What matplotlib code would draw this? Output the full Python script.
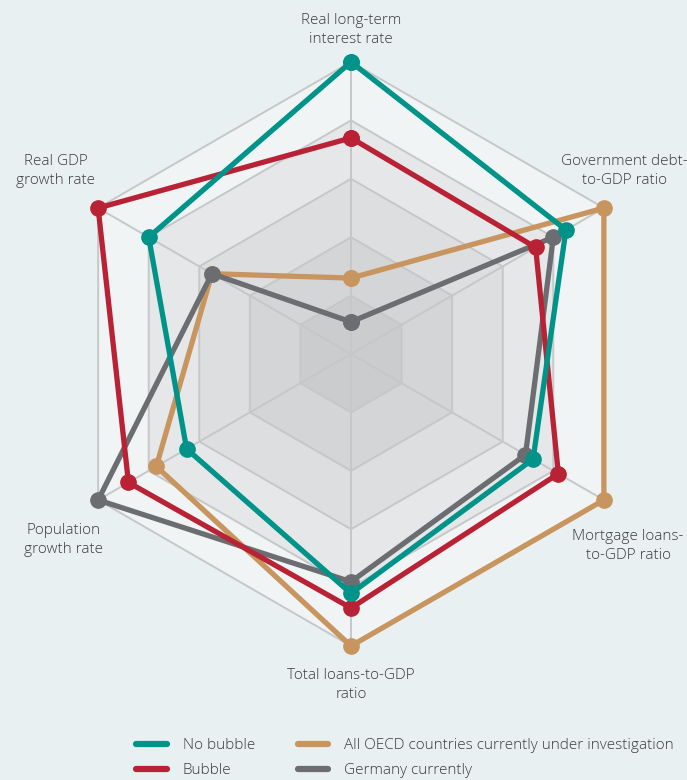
import matplotlib.pyplot as plt
import numpy as np
from matplotlib.lines import Line2D

plt.rcParams['font.family'] = ['Open Sans', 'DejaVu Sans']
plt.rcParams['font.weight'] = 'light'

# axes, clockwise from the top
axis_labels = ['Real long-term\ninterest rate', 'Government debt-\nto-GDP ratio',
               'Mortgage loans-\nto-GDP ratio', 'Total loans-to-GDP\nratio',
               'Population\ngrowth rate', 'Real GDP\ngrowth rate']

no_bubble = [5.0, 4.25, 3.6, 4.1, 3.25, 4.0]
bubble = [3.7, 3.65, 4.1, 4.35, 4.4, 5.0]
oecd = [1.3, 5.0, 5.0, 5.0, 3.85, 2.75]
germany = [0.55, 4.0, 3.45, 3.9, 5.0, 2.75]

series_names = ['No bubble', 'Bubble', 'All OECD countries currently under investigation',
                'Germany currently']
series_colors = ['#009389', '#B92234', '#C8955F', '#6C6D70']

bg = '#E8F0F2'
ring_colors = ['#F1F4F5', '#E5E7E9', '#DDDEE0', '#D4D5D7', '#CBCCCE']
grid_color = '#C6C7C9'

n = len(axis_labels)
theta = np.linspace(0, 2 * np.pi, n, endpoint=False)
theta_closed = np.append(theta, theta[0])

fig = plt.figure(figsize=(6.87, 7.80), dpi=100, facecolor=bg)
ax = fig.add_axes([351/687 - 292/687, 1 - (354 + 292)/780, 584/687, 584/780],
                  projection='polar')
ax.set_facecolor('none')
ax.set_theta_offset(np.pi / 2)
ax.set_theta_direction(-1)
ax.set_ylim(0, 5)
ax.grid(False)
ax.spines['polar'].set_visible(False)
ax.set_xticks([])
ax.set_yticks([])

# hexagon rings
for i, lvl in enumerate([5, 4, 3, 2, 1]):
    ax.fill(theta_closed, [lvl] * (n + 1), color=ring_colors[i], zorder=1, lw=0)
    ax.plot(theta_closed, [lvl] * (n + 1), color=grid_color, lw=1.4, zorder=2)
for t in theta:
    ax.plot([t, t], [0, 5], color=grid_color, lw=1.4, zorder=2)

data = [no_bubble, bubble, oecd, germany]
order = [2, 3, 1, 0]
for k in order:
    vals = np.append(data[k], data[k][0])
    ax.plot(theta_closed, vals, color=series_colors[k], lw=3.8, marker='o',
            markersize=11, solid_joinstyle='round', zorder=5 + order.index(k),
            clip_on=False)

# axis labels (pixel positions)
label_pos = [(351, 30), (624, 171), (628, 546), (351, 685), (64, 540), (56, 171)]
for lab, (px, py) in zip(axis_labels, label_pos):
    fig.text(px / 687, 1 - py / 780, lab, ha='center', va='center', fontsize=11,
             color='#3C3C3C', linespacing=1.35)

leg_handles = [Line2D([0], [0], color=c, lw=4.5, solid_capstyle='round') for c in series_colors]
leg = fig.legend(leg_handles, series_names, ncol=2, loc='center',
                 bbox_to_anchor=(405 / 687, 1 - 758/780), frameon=False, fontsize=11,
                 handlelength=2.0, handletextpad=1.05, columnspacing=2.8,
                 labelspacing=0.65, labelcolor='#3C3C3C')

fig.savefig('out.png', dpi=100, facecolor=bg)
